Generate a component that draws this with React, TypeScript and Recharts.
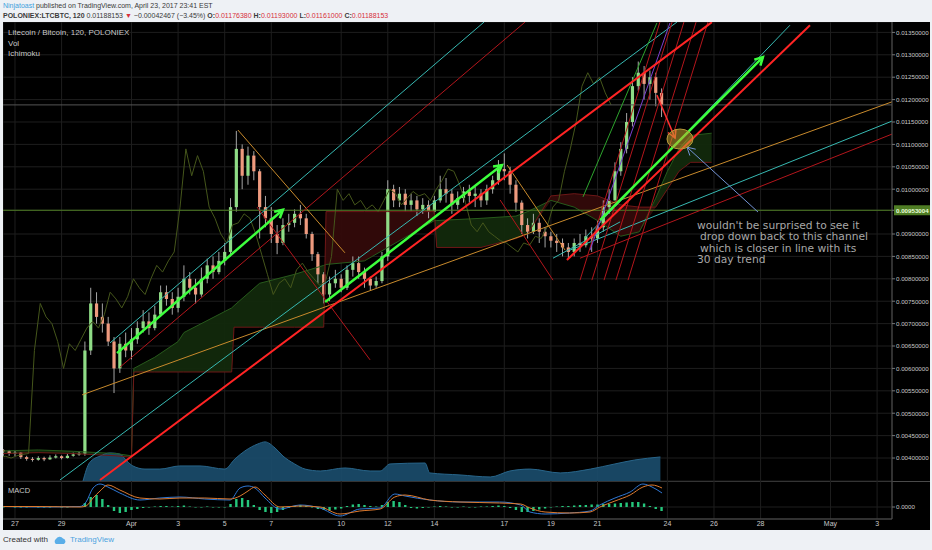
import React from 'react';
import {
  ComposedChart,
  Bar,
  Line,
  Area,
  XAxis,
  YAxis,
  CartesianGrid,
  ReferenceLine,
  ReferenceDot,
} from 'recharts';

// Time axis: days since Mar 27 00:00
const T_MIN = -0.515;
const T_MAX = 37.64;
const dayTicks = [0, 2, 5, 7, 9, 11, 14, 16, 18, 21, 23, 25, 28, 30, 32, 35, 37];
const dayLabels = ['27', '29', 'Apr', '3', '5', '7', '10', '12', '14', '17', '19', '21', '24', '26', '28', 'May', '3'];

// Price axis (BTC)
const P_MIN = 0.003487;
const P_MAX = 0.013732;
const MARKER_PRICE = 0.00953004;
const LAST_PRICE = 0.01188153;
const priceTicks = [
  0.004, 0.0045, 0.005, 0.0055, 0.006, 0.0065, 0.007, 0.0075, 0.008, 0.0085, 0.009,
  0.00953004, 0.01, 0.0105, 0.011, 0.0115, 0.012, 0.0125, 0.013, 0.0135,
];

// 6h candles, prices in 1e-5 BTC
const CANDLE_START = -0.5;
const CANDLE_STEP = 0.25;
const FIRST_OPEN = 418;
const closes = [
  415, 410, 412, 402, 398, 396, 400, 397, 401, 404, 400, 405, 408, 410,
  640, 745, 715, 700, 660, 600, 655, 640, 665, 690, 705, 690, 720, 770, 755, 735, 760, 800, 780, 765,
  800, 830, 815, 840, 860, 960, 1090, 1030, 1075, 1040, 960, 935, 900, 880, 920, 925, 945, 935, 900,
  855, 810, 765, 790, 800, 780, 820, 835, 815, 800, 785, 795, 850, 1000, 975, 990, 965, 975, 955, 965,
  950, 975, 1000, 990, 965, 980, 995, 985, 990, 975, 1000, 1020, 1045, 1040, 1010, 970, 920, 905, 925,
  905, 895, 885, 880, 870, 860, 880, 875, 895, 890, 915, 960, 975, 1040, 1090, 1150, 1230, 1260, 1235,
  1250, 1215, 1188,
];
const highs = [
  420, 418, 416, 413, 405, 402, 404, 403, 406, 408, 406, 409, 412, 415,
  660, 780, 770, 745, 715, 670, 670, 680, 690, 705, 730, 725, 740, 785, 785, 770, 780, 830, 815, 800,
  825, 845, 850, 860, 880, 980, 1130, 1100, 1095, 1085, 1045, 985, 960, 920, 935, 945, 955, 965, 945,
  905, 860, 815, 805, 820, 810, 830, 850, 850, 825, 805, 805, 860, 1020, 1010, 1005, 1000, 990, 985, 980,
  975, 985, 1030, 1025, 1000, 995, 1005, 1010, 1005, 1000, 1010, 1030, 1065, 1080, 1050, 1020, 975, 935, 945,
  935, 915, 905, 900, 890, 880, 890, 900, 910, 915, 930, 975, 1000, 1060, 1105, 1170, 1250, 1285, 1275,
  1265, 1260, 1225,
];
const lows = [
  405, 405, 404, 398, 394, 392, 394, 393, 396, 399, 397, 399, 403, 405,
  405, 630, 700, 680, 650, 545, 590, 625, 620, 655, 680, 675, 685, 715, 740, 720, 725, 750, 765, 745,
  760, 790, 800, 810, 830, 850, 950, 1000, 1010, 1020, 890, 915, 880, 855, 875, 905, 915, 920, 890,
  840, 790, 745, 750, 780, 770, 775, 805, 800, 780, 775, 780, 790, 840, 960, 960, 950, 950, 940, 945,
  935, 945, 970, 970, 945, 955, 970, 970, 960, 960, 965, 990, 1010, 1020, 990, 950, 900, 890, 900,
  880, 870, 870, 860, 850, 845, 850, 860, 870, 860, 880, 905, 945, 975, 1030, 1080, 1140, 1220, 1200,
  1200, 1185, 1161,
];
// MACD histogram per candle (1e-5)
const histogram = [
  0, 1, 0, -1, 0, 1, 0, -1, 0, 1, 0, 0, 1, 1,
  8, 20, 24, 16, 4, -8, -12, -10, -6, -4, -2, -1, 1, 2, 2, 1, 2, 3, 1, -1, -1, 1, 0, -1, -1,
  6, 16, 18, 14, 4, -6, -10, -12, -10, -6, -2, 2, 4, 3, -1, -4, -6, -7, -5, -3,
  2, 5, 6, 4, 2, 1, 4, 10, 12, 10, 4, -2, -3, -2, -1, 1, 2, 1, -1, 0, 1, 0, -1, 1, 1, 2, 3, 2,
  -2, -6, -10, -10, -8, -5, -3, -1, 1, 2, 2, 3, 4, 4, 5, 5, 6, 6, 7, 8, 9, 10, 10, 7, 2, -4, -8,
];

// Ichimoku cloud spans (1e-5)
const cloudT = [-0.5, 1.0, 2.5, 4.3, 5.0, 5.1, 6.0, 7.0, 7.25, 9.3, 9.4, 10.5, 12.0, 13.25, 13.35, 15.0, 16.0, 18.0, 18.1, 20.0, 21.5, 22.0, 23.0, 24.0, 25.0, 26.0, 26.8, 27.5, 28.0, 28.5, 29.0, 29.9];
const spanA = [416, 418, 415, 410, 405, 600, 625, 660, 680, 735, 740, 790, 810, 830, 832, 840, 870, 930, 930, 935, 940, 950, 975, 960, 930, 895, 905, 980, 1040, 1090, 1120, 1125];
const spanB = [410, 412, 410, 405, 402, 592, 592, 592, 592, 592, 692, 692, 692, 692, 950, 950, 950, 950, 870, 870, 890, 900, 985, 990, 985, 965, 960, 960, 1000, 1040, 1060, 1060];
const LAG_DAYS = (26 * 2) / 24;

// Volume (BTC)
const volT = [2.92, 3.2, 3.65, 4.08, 4.5, 4.8, 5.06, 5.58, 6.22, 7.08, 7.94, 9.0, 9.44, 9.87, 10.43, 10.73, 11.16, 11.5, 12.0, 12.45, 13.1, 14.16, 15.24, 15.67, 16.1, 17.6, 17.8, 19.1, 20.4, 21.24, 22.1, 23.4, 24.7, 25.75, 26.6, 27.7];
const volume = [0, 1000, 1360, 1530, 1470, 1090, 820, 650, 650, 820, 820, 650, 1200, 1640, 2020, 2130, 1800, 1360, 930, 650, 545, 710, 545, 545, 930, 980, 440, 330, 220, 545, 650, 440, 650, 930, 1145, 1310];

// MACD / signal (1e-5)
const macdT = [-0.5, 1.07, 2.79, 3.05, 3.35, 3.65, 3.99, 4.5, 5.36, 6.22, 7.08, 8.15, 9.23, 9.66, 10.0, 10.3, 10.73, 11.37, 12.23, 13.09, 13.95, 14.8, 15.67, 16.3, 16.74, 17.8, 19.1, 20.8, 21.7, 22.1, 22.75, 23.8, 24.68, 25.1, 25.75, 26.4, 26.95, 27.34, 27.77];
const macd = [1, 0, 1, 10, 38, 46, 40, 28, 14, 18, 20, 16, 14, 38, 42, 38, 18, -4, 4, -2, -18, -4, -2, 26, 22, 14, 10, 10, 4, -10, -14, -12, -8, 4, 18, 30, 46, 40, 28];
const signal = [1, 1, 0, 2, 18, 32, 44, 34, 18, 16, 18, 18, 16, 22, 32, 40, 24, 0, 2, 0, -14, -8, -4, 20, 24, 14, 10, 8, 6, -2, -10, -12, -10, 0, 12, 24, 40, 44, 38];

// Drawn trendlines: [[t, price 1e-5], [t, price 1e-5]]
const thickRedLines = [
  [[3.65, 351], [29.91, 1373]],
  [[23.69, 842], [34.12, 1366]],
];
const thinRedLines = [
  [[4.51, 603], [21.89, 1373]],
  [[24.25, 846], [37.64, 1123]],
  [[10.39, 960], [15.24, 619]],
  [[20.82, 976], [23.09, 797]],
  [[24.25, 797], [27.68, 1373]],
  [[24.76, 797], [28.2, 1373]],
  [[25.28, 797], [28.71, 1373]],
  [[25.79, 797], [29.23, 1373]],
  [[26.31, 797], [29.74, 1373]],
];
const cyanLines = [
  [[24.46, 891], [33.26, 1366]],
  [[4.08, 657], [20.13, 1373]],
  [[1.93, 351], [28.41, 1373]],
  [[23.82, 864], [37.64, 1152]],
  [[23.09, 846], [25.97, 927]],
];
const orangeLines = [
  [[2.88, 541], [37.64, 1195]],
  [[9.57, 1132], [14.16, 858]],
  [[21.12, 1054], [23.61, 864]],
];
const greenArrows = [
  [[25.11, 931], [32.1, 1295]],
  [[4.38, 634], [11.5, 954]],
  [[13.31, 748], [20.9, 1054]],
];
const greenThinLines = [[[24.38, 983], [27.55, 1371]]];
const purpleLines = [[[24.68, 864], [28.11, 1371]]];
const redArrow = [[27.55, 1210], [28.33, 1114]];
const blueArrow = [[31.89, 949], [28.84, 1094]];
const ellipseAt = [28.54, 1112];
const noteAt = [29.27, 911];
const noteLines = ["wouldn't be surprised to see it", ' drop down back to this channel', ' which is closer in line with its', '30 day trend'];

const UP = '#8fdc86';
const DOWN = '#ee9a7e';
const FONT = '"Liberation Sans", Arial, sans-serif';

const candles = closes.map((c, i) => ({
  t: CANDLE_START + i * CANDLE_STEP,
  o: (i === 0 ? FIRST_OPEN : closes[i - 1]) / 1e5,
  h: highs[i] / 1e5,
  l: lows[i] / 1e5,
  c: c / 1e5,
}));
const histRows = histogram.map((v, i) => ({ t: CANDLE_START + i * CANDLE_STEP, v }));
const lagRows = closes.map((c, i) => ({ t: CANDLE_START + i * CANDLE_STEP - LAG_DAYS, v: c / 1e5 }));
const cloudRows = cloudT.map((t, i) => {
  const a = spanA[i] / 1e5;
  const b = spanB[i] / 1e5;
  return { t, a, b, green: a >= b ? [b, a] : [a, a], red: b > a ? [a, b] : [b, b] };
});
const volRows = volT.map((t, i) => ({ t, v: volume[i] }));
const macdRows = macdT.map((t, i) => ({ t, m: macd[i], s: signal[i] }));

const toSeg = (s: number[][]) => s.map(([t, p]) => ({ x: t, y: p / 1e5 }));

const Candle = (props: any) => {
  const { x, y, width, height, payload } = props;
  if (!payload) return null;
  const top = Math.min(y, y + height);
  const span = Math.abs(height);
  const range = payload.h - payload.l || 1;
  const toY = (v: number) => top + ((payload.h - v) / range) * span;
  const bodyTop = toY(Math.max(payload.o, payload.c));
  const bodyBot = toY(Math.min(payload.o, payload.c));
  const mid = x + (width || 0) / 2;
  return (
    <g>
      <line x1={mid} x2={mid} y1={top} y2={top + span} stroke="#cfcfcf" strokeWidth={0.8} />
      <rect x={mid - 1.6} y={bodyTop} width={3.2} height={Math.max(1, bodyBot - bodyTop)} fill={payload.c >= payload.o ? UP : DOWN} />
    </g>
  );
};

const HistBar = (props: any) => {
  const { x, y, width, height } = props;
  const mid = x + (width || 0) / 2;
  const top = Math.min(y, y + height);
  return <rect x={mid - 1.2} y={top} width={2.4} height={Math.max(0.5, Math.abs(height))} fill="#25c77c" />;
};

const arrowShape = (props: any) => {
  const { x1, y1, x2, y2, stroke, strokeWidth, clipPath } = props;
  const ang = Math.atan2(y2 - y1, x2 - x1);
  const len = 9;
  const p1 = [x2 + len * Math.cos(ang + Math.PI - 0.5), y2 + len * Math.sin(ang + Math.PI - 0.5)];
  const p2 = [x2 + len * Math.cos(ang + Math.PI + 0.5), y2 + len * Math.sin(ang + Math.PI + 0.5)];
  return (
    <g clipPath={clipPath}>
      <line x1={x1} y1={y1} x2={x2} y2={y2} stroke={stroke} strokeWidth={strokeWidth} />
      <polyline points={`${p1[0]},${p1[1]} ${x2},${y2} ${p2[0]},${p2[1]}`} fill="none" stroke={stroke} strokeWidth={strokeWidth} />
    </g>
  );
};

const PriceTick = (props: any) => {
  const { x, y, payload } = props;
  const hl = Math.abs(payload.value - MARKER_PRICE) < 1e-9;
  return (
    <g>
      {hl && <rect x={x - 2} y={y - 5} width={38} height={10} fill="#4f7d24" />}
      <text x={x} y={y} dy={2.3} fontSize={6.2} fontFamily={FONT} fill={hl ? '#eaffdc' : '#c8c8c8'} fontWeight={hl ? 700 : 400}>
        {payload.value.toFixed(8)}
      </text>
    </g>
  );
};

const segLines = (lines: number[][][], key: string, stroke: string, width: number) =>
  lines.map((seg, i) => (
    <ReferenceLine key={`${key}${i}`} yAxisId="price" segment={toSeg(seg)} stroke={stroke} strokeWidth={width} ifOverflow="hidden" />
  ));

const red = '#d7303a';

export default function App() {
  return (
    <div style={{ position: 'absolute', left: 0, top: 0, width: 932, height: 550, background: '#eef1f5', fontFamily: FONT, overflow: 'hidden' }}>
      <div style={{ position: 'absolute', left: 3, top: 1, fontSize: 7, lineHeight: '10px', color: '#3a3a3a', whiteSpace: 'nowrap' }}>
        <span style={{ color: '#3d9fdc' }}>Ninjatoast</span> published on TradingView.com, April 23, 2017 23:41 EST
      </div>
      <div style={{ position: 'absolute', left: 3, top: 11, fontSize: 7, lineHeight: '10px', color: '#3a3a3a', whiteSpace: 'nowrap' }}>
        <b>POLONIEX:LTCBTC, 120</b> 0.01188153 <span style={{ color: red }}>▼</span> −0.00042467 (−3.45%) <b>O:</b>
        <span style={{ color: red }}>0.01176380</span> <b>H:</b><span style={{ color: red }}>0.01193000</span> <b>L:</b>
        <span style={{ color: red }}>0.01161000</span> <b>C:</b><span style={{ color: red }}>0.01188153</span>
      </div>

      <div style={{ position: 'absolute', left: 3, top: 22, width: 927, height: 508, background: '#000' }} />

      <div style={{ position: 'absolute', left: 3, top: 22 }}>
        <ComposedChart width={927} height={459} data={candles} margin={{ top: 0, right: 0, bottom: 0, left: 0 }}>
          <CartesianGrid yAxisId="price" stroke="#1e1e1e" />
          <XAxis type="number" dataKey="t" domain={[T_MIN, T_MAX]} ticks={dayTicks} allowDataOverflow hide />
          <YAxis
            yAxisId="price"
            orientation="right"
            domain={[P_MIN, P_MAX]}
            ticks={priceTicks}
            interval={0}
            allowDataOverflow
            width={38}
            tickSize={3}
            tickMargin={1}
            tickLine={{ stroke: '#777' }}
            axisLine={{ stroke: '#555' }}
            tick={<PriceTick />}
          />
          <YAxis yAxisId="vol" hide domain={[0, 25000]} allowDataOverflow />

          <Area yAxisId="price" data={cloudRows} dataKey="green" type="linear" fill="#12290c" fillOpacity={0.95} stroke="none" isAnimationActive={false} />
          <Area yAxisId="price" data={cloudRows} dataKey="red" type="linear" fill="#330a0a" fillOpacity={0.95} stroke="none" isAnimationActive={false} />
          <Line yAxisId="price" data={cloudRows} dataKey="a" type="linear" stroke="#275a1c" strokeWidth={1} dot={false} isAnimationActive={false} />
          <Line yAxisId="price" data={cloudRows} dataKey="b" type="linear" stroke="#6e1717" strokeWidth={1} dot={false} isAnimationActive={false} />

          <Area yAxisId="vol" data={volRows} dataKey="v" type="monotone" fill="#1b4e6e" fillOpacity={0.9} stroke="#28658a" isAnimationActive={false} />

          <Line yAxisId="price" data={lagRows} dataKey="v" type="linear" stroke="#45561b" strokeWidth={1} dot={false} isAnimationActive={false} />

          <ReferenceLine yAxisId="price" y={MARKER_PRICE} stroke="#4f7d24" strokeWidth={1} />
          <ReferenceLine yAxisId="price" y={LAST_PRICE} stroke="#555" strokeWidth={1} />

          <Bar yAxisId="price" dataKey={(d: any) => [d.l, d.h]} barSize={3} shape={Candle} isAnimationActive={false} />

          {segLines(orangeLines, 'or', '#c88a2c', 1)}
          {segLines(cyanLines, 'cy', '#37b9b2', 1)}
          {segLines(thinRedLines, 'rt', '#b3161c', 1)}
          {segLines(purpleLines, 'pu', '#7b3fd0', 1)}
          {segLines(greenThinLines, 'gt', '#2da42d', 1)}
          {segLines(thickRedLines, 'rk', '#ff2424', 2)}
          {greenArrows.map((seg, i) => (
            <ReferenceLine key={`ga${i}`} yAxisId="price" segment={toSeg(seg)} stroke="#3dff3d" strokeWidth={2.5} ifOverflow="hidden" shape={arrowShape} />
          ))}
          <ReferenceLine yAxisId="price" segment={toSeg(redArrow)} stroke="#ff3030" strokeWidth={1.5} ifOverflow="hidden" shape={arrowShape} />
          <ReferenceDot
            yAxisId="price"
            x={ellipseAt[0]}
            y={ellipseAt[1] / 1e5}
            r={10}
            ifOverflow="hidden"
            shape={(p: any) => <ellipse cx={p.cx} cy={p.cy} rx={13} ry={10} fill="rgba(196,160,48,0.55)" stroke="#b89a3a" />}
          />
          <ReferenceLine yAxisId="price" segment={toSeg(blueArrow)} stroke="#7393d4" strokeWidth={1} ifOverflow="hidden" shape={arrowShape} />
          <ReferenceDot
            yAxisId="price"
            x={noteAt[0]}
            y={noteAt[1] / 1e5}
            r={1}
            ifOverflow="hidden"
            shape={(p: any) => (
              <text x={p.cx} y={p.cy} fontSize={10.7} fontFamily='"DejaVu Sans", sans-serif' fill="#a8a8a8">
                {noteLines.map((s, i) => (
                  <tspan key={i} x={p.cx + (s.startsWith(' ') ? 3 : 0)} dy={i === 0 ? 0 : 11.3}>
                    {s.trim()}
                  </tspan>
                ))}
              </text>
            )}
          />
        </ComposedChart>
      </div>

      <div style={{ position: 'absolute', left: 3, top: 481, width: 927, height: 1, background: '#4a4a4a' }} />

      <div style={{ position: 'absolute', left: 3, top: 481 }}>
        <ComposedChart width={927} height={49} data={histRows} margin={{ top: 0, right: 0, bottom: 0, left: 0 }}>
          <CartesianGrid stroke="#1e1e1e" />
          <XAxis
            type="number"
            dataKey="t"
            domain={[T_MIN, T_MAX]}
            ticks={dayTicks}
            interval={0}
            allowDataOverflow
            height={11}
            tickSize={0}
            tickMargin={2}
            axisLine={{ stroke: '#555' }}
            tick={{ fill: '#c8c8c8', fontSize: 7, fontFamily: FONT }}
            tickFormatter={(v: number) => dayLabels[dayTicks.indexOf(v)]}
          />
          <YAxis
            orientation="right"
            domain={[-24, 52]}
            ticks={[0]}
            allowDataOverflow
            width={38}
            tickSize={3}
            tickMargin={1}
            tickLine={{ stroke: '#777' }}
            axisLine={{ stroke: '#555' }}
            tick={{ fill: '#c8c8c8', fontSize: 6.2, fontFamily: FONT, textAnchor: 'start' }}
            tickFormatter={(v: number) => v.toFixed(4)}
          />
          <Bar dataKey="v" barSize={2} shape={HistBar} isAnimationActive={false} />
          <Line data={macdRows} dataKey="m" type="monotone" stroke="#2f78d6" strokeWidth={1} dot={false} isAnimationActive={false} />
          <Line data={macdRows} dataKey="s" type="monotone" stroke="#de7a2e" strokeWidth={1} dot={false} isAnimationActive={false} />
        </ComposedChart>
      </div>

      <div style={{ position: 'absolute', left: 8, top: 28, fontSize: 8, lineHeight: '10.5px', color: '#c8c8c8' }}>
        <div>Litecoin / Bitcoin, 120, POLONIEX</div>
        <div>Vol</div>
        <div>Ichimoku</div>
      </div>
      <div style={{ position: 'absolute', left: 8, top: 486, fontSize: 7.5, color: '#c8c8c8' }}>MACD</div>

      <div style={{ position: 'absolute', left: 3, top: 535, fontSize: 8, lineHeight: '10px', color: '#333', display: 'flex', alignItems: 'center', whiteSpace: 'nowrap' }}>
        <span>Created with</span>
        <svg width={14} height={9} style={{ margin: '0 3px 0 5px' }}>
          <path d="M3 8 A3 3 0 0 1 3 3 A4 4 0 0 1 10 2.5 A3 3 0 0 1 11 8 Z" fill="#5aaee8" />
        </svg>
        <span style={{ color: '#4da3e0' }}>TradingView</span>
      </div>
    </div>
  );
}
